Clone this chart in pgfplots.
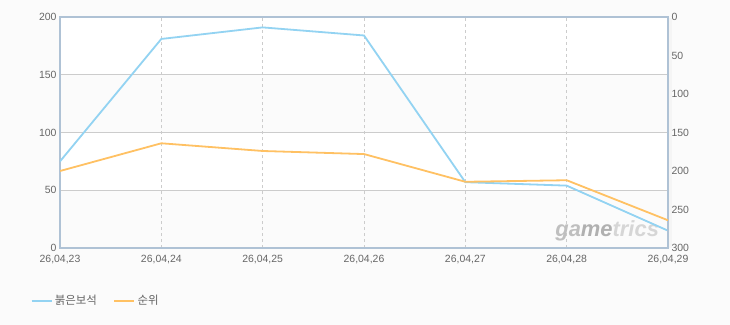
\documentclass[border=0pt]{standalone}
\usepackage{pgfplots}
\pgfplotsset{compat=1.18}
\usepackage{fontspec}
\setmainfont{Liberation Sans}
\newfontfamily\kr{Noto Sans CJK KR}
\definecolor{bluel}{HTML}{93D3F2}
\definecolor{orl}{HTML}{FFC163}
\definecolor{framec}{HTML}{AFC2D5}
\definecolor{gridc}{HTML}{CCCCCC}
\definecolor{txt}{HTML}{666666}
\definecolor{bg}{HTML}{FBFBFB}
\begin{document}
\begin{tikzpicture}
\useasboundingbox[fill=bg] (0,0) rectangle (730bp,325bp);
\fill[white] (60bp,250.25bp) rectangle (668bp,308bp);
\fill[white] (60bp,134.75bp) rectangle (668bp,192.5bp);
\fill[black!4] (669bp,77bp) rectangle (672bp,307bp);
\pgfplotsset{common/.style={at={(60bp,77bp)}, anchor=south west, scale only axis,
  width=608bp, height=231bp, xmin=0, xmax=6,
  tick style={draw=none},
  ticklabel style={font=\fontsize{10.5}{12}\selectfont, text=txt},
  /pgf/number format/assume math mode=true}}
\begin{axis}[common, ymin=0, ymax=200, ytick={0,50,...,200},
  xtick={0,...,6},
  xticklabels={{26,04,23},{26,04,24},{26,04,25},{26,04,26},{26,04,27},{26,04,28},{26,04,29}},
  xticklabel style={yshift=-3.5bp},
  xmajorgrids, ymajorgrids,
  x grid style={dashed, gridc, line width=0.8bp},
  y grid style={gridc, line width=0.8bp},
  axis line style={framec, line width=2bp},
  legend columns=2,
  legend style={at={(-0.0493,-0.2294)}, anchor=west, draw=none, fill=none, inner sep=0pt,
    font=\kr\fontsize{11.5}{12}\selectfont, text=txt, cells={anchor=west},
    /tikz/every even column/.append style={column sep=14bp}},
  legend image code/.code={\draw[#1,line width=2.6bp] (-2bp,0bp) -- (18bp,0bp);},
]
\node[font=\fontsize{22}{22}\selectfont\bfseries\itshape, anchor=center]
  at (axis description cs:0.9,0.075) {{\color{black!25}ga}{\color{black!31}me}{\color{black!16}trics}};
\addplot[bluel, line width=1.8bp] coordinates {(0,75) (1,181) (2,191) (3,184) (4,57) (5,54) (6,15)};
\addlegendentry{붉은보석}
\addlegendimage{orl, line width=2.6bp}
\addlegendentry{순위}
\end{axis}
\begin{axis}[common, ymin=0, ymax=300, y dir=reverse, ytick={0,50,...,300},
  axis x line=none, axis y line*=right,
  axis line style={framec, line width=2bp},
  yticklabel style={anchor=west}]
\addplot[orl, line width=1.8bp] coordinates {(0,200) (1,164) (2,174) (3,178) (4,214) (5,212) (6,264)};
\end{axis}
\end{tikzpicture}
\end{document}
